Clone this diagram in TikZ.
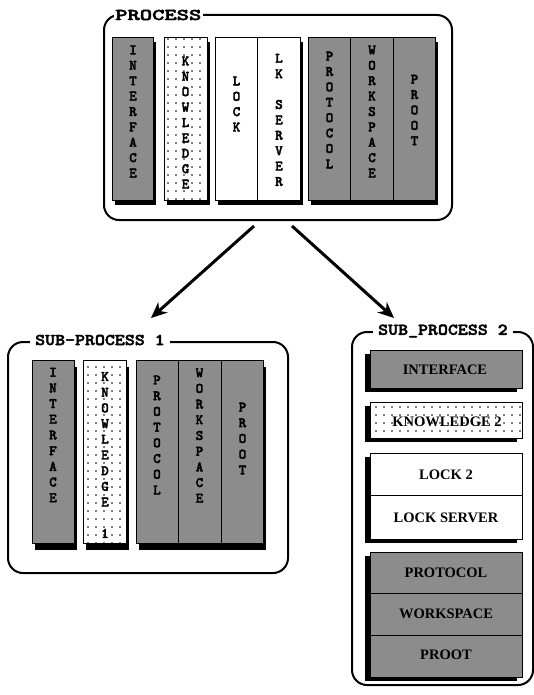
\documentclass[tikz,border=0pt]{standalone}
\usepackage{fontspec}
\setmainfont{Liberation Serif}
\newfontfamily\ttb{lmmonolt10-bold}[Extension=.otf, FakeBold=2.5]
\usepackage{graphicx}
\usetikzlibrary{arrows.meta,patterns.meta,calc}
\pgfdeclarelayer{bg}
\pgfdeclarelayer{shadow}
\pgfsetlayers{bg,shadow,main}
\tikzset{
  frame/.style={draw, line width=2pt, rounded corners=15pt, anchor=north west, inner sep=0pt, outer sep=0pt},
  flabel/.style={fill=white, inner xsep=5pt, inner ysep=2pt, anchor=west, font=\ttb\fontsize{16.5}{18}\selectfont},
  colbase/.style={draw, line width=0.9pt, inner sep=0pt, outer sep=0pt, anchor=north west},
  gcol/.style={colbase, fill=black!45},
  dcol/.style={colbase, preaction={fill=white}, pattern={Dots[distance=8pt,radius=0.9pt]}},
  wcol/.style={colbase, fill=white},
  vtext/.style={align=center, inner sep=0pt, font=\ttb\fontsize{14.5}{15.4}\selectfont},
  vtextb/.style={align=center, inner sep=0pt, font=\ttb\fontsize{14.5}{15.7}\selectfont},
  htext/.style={inner sep=0pt, font=\bfseries\fontsize{14.5}{16}\selectfont},
  arr/.style={line width=3pt, -{Stealth[length=16pt,width=14pt]}},
}
\begin{document}
\begin{tikzpicture}[x=1pt,y=1pt]
\useasboundingbox (0,0) rectangle (534,-695);
\begin{pgfonlayer}{bg}
  \fill[white] (0,0) rectangle (534,-695);
\end{pgfonlayer}

% ---------------- PROCESS ----------------
\node[frame, minimum width=348pt, minimum height=205pt] (P) at (104,-15) {};
\node[flabel, inner xsep=1.5pt] (Plab) at (113.5,-15) {\scalebox{1.42}[1]{PROCESS}};

\node[gcol, minimum width=41pt, minimum height=163pt] (tIF) at (112,-37) {};
\node[dcol, minimum width=43pt, minimum height=163pt] (tKN) at (164,-37) {};
\node[wcol, minimum width=42pt, minimum height=163pt] (tLK) at (215,-37) {};
\node[wcol, minimum width=43pt, minimum height=163pt] (tLS) at (257,-37) {};
\node[gcol, minimum width=42pt, minimum height=163pt] (tPR) at (308,-37) {};
\node[gcol, minimum width=43pt, minimum height=163pt] (tWS) at (350,-37) {};
\node[gcol, minimum width=42pt, minimum height=163pt] (tPT) at (393,-37) {};

\begin{pgfonlayer}{shadow}
  \fill ($(tIF.north west)+(3,-5)$) rectangle ($(tIF.south east)+(3,-5)$);
  \fill ($(tKN.north west)+(3,-5)$) rectangle ($(tKN.south east)+(3,-5)$);
  \fill ($(tLK.north west)+(3,-5)$) rectangle ($(tLS.south east)+(3,-5)$);
  \fill ($(tPR.north west)+(3,-5)$) rectangle ($(tPT.south east)+(3,-5)$);
\end{pgfonlayer}

\node[vtext] (tIFt) at (133,-111.5) {I\\N\\T\\E\\R\\F\\A\\C\\E};
\node[vtext] (tKNt) at (185.5,-122.5) {K\\N\\O\\W\\L\\E\\D\\G\\E};
\node[vtext] (tLKt) at (236.5,-104) {L\\O\\C\\K};
\node[vtext] (tLSt) at (279,-120) {L\\K\\[15.4pt]S\\E\\R\\V\\E\\R};
\node[vtext] (tPRt) at (329.5,-110) {P\\R\\O\\T\\O\\C\\O\\L};
\node[vtext] (tWSt) at (372,-111.5) {W\\O\\R\\K\\S\\P\\A\\C\\E};
\node[vtext] (tPTt) at (414.5,-110) {P\\R\\O\\O\\T};

% ---------------- arrows ----------------
\coordinate (a1s) at (254,-226);
\coordinate (a1e) at (151,-318);
\coordinate (a2s) at (292,-226);
\coordinate (a2e) at (394,-318);
\draw[arr] (a1s) -- (a1e);
\draw[arr] (a2s) -- (a2e);

% ---------------- SUB-PROCESS 1 ----------------
\node[frame, minimum width=280pt, minimum height=231pt] (S1) at (8,-342) {};
\node[flabel] (S1lab) at (30,-340) {\scalebox{1.15}[1]{SUB-PROCESS 1}};

\node[gcol, minimum width=42pt, minimum height=183pt] (sIF) at (32,-360) {};
\node[dcol, minimum width=43pt, minimum height=183pt] (sKN) at (83,-360) {};
\node[gcol, minimum width=42pt, minimum height=183pt] (sPR) at (136,-360) {};
\node[gcol, minimum width=43pt, minimum height=183pt] (sWS) at (178,-360) {};
\node[gcol, minimum width=42pt, minimum height=183pt] (sPT) at (221,-360) {};

\begin{pgfonlayer}{shadow}
  \fill ($(sIF.north west)+(3,-7)$) rectangle ($(sIF.south east)+(3,-7)$);
  \fill ($(sKN.north west)+(3,-7)$) rectangle ($(sKN.south east)+(3,-7)$);
  \fill ($(sPR.north west)+(3,-7)$) rectangle ($(sPT.south east)+(3,-7)$);
\end{pgfonlayer}

\node[vtextb] (sIFt) at (53,-435) {I\\N\\T\\E\\R\\F\\A\\C\\E};
\node[vtextb] (sKNt) at (105,-455) {K\\N\\O\\W\\L\\E\\D\\G\\E\\[15.7pt]1};
\node[vtextb] (sPRt) at (157,-435) {P\\R\\O\\T\\O\\C\\O\\L};
\node[vtextb] (sWSt) at (199.5,-435.5) {W\\O\\R\\K\\S\\P\\A\\C\\E};
\node[vtextb] (sPTt) at (242.5,-438.5) {P\\R\\O\\O\\T};

% ---------------- SUB_PROCESS 2 ----------------
\node[frame, minimum width=181pt, minimum height=353pt] (S2) at (352,-332) {};
\node[flabel] (S2lab) at (373,-331) {\scalebox{1.15}[1]{SUB\_PROCESS 2}};

\node[gcol, minimum width=152pt, minimum height=38pt] (rIF) at (370,-350) {};
\node[dcol, minimum width=152pt, minimum height=36pt] (rKN) at (370,-402) {};
\node[wcol, minimum width=152pt, minimum height=42pt] (rL2) at (370,-453) {};
\node[wcol, minimum width=152pt, minimum height=44pt] (rLS) at (370,-495) {};
\node[gcol, minimum width=152pt, minimum height=41pt] (rPR) at (370,-552) {};
\node[gcol, minimum width=152pt, minimum height=42pt] (rWS) at (370,-593) {};
\node[gcol, minimum width=152pt, minimum height=42pt] (rPT) at (370,-635) {};

\begin{pgfonlayer}{shadow}
  \fill ($(rIF.north west)+(-5,-4)$) rectangle ($(rIF.south east)+(-5,-4)$);
  \fill ($(rKN.north west)+(-5,-4)$) rectangle ($(rKN.south east)+(-5,-4)$);
  \fill ($(rL2.north west)+(-5,-4)$) rectangle ($(rLS.south east)+(-5,-4)$);
  \fill ($(rPR.north west)+(-5,-4)$) rectangle ($(rPT.south east)+(-5,-4)$);
\end{pgfonlayer}

\node[htext] (rIFt) at (445,-370) {INTERFACE};
\node[htext] (rKNt) at (447,-422) {KNOWLEDGE 2};
\node[htext] (rL2t) at (446,-475) {LOCK 2};
\node[htext] (rLSt) at (446,-518) {LOCK SERVER};
\node[htext] (rPRt) at (446,-573) {PROTOCOL};
\node[htext] (rWSt) at (446,-614) {WORKSPACE};
\node[htext] (rPTt) at (446,-655) {PROOT};
\end{tikzpicture}
\end{document}
